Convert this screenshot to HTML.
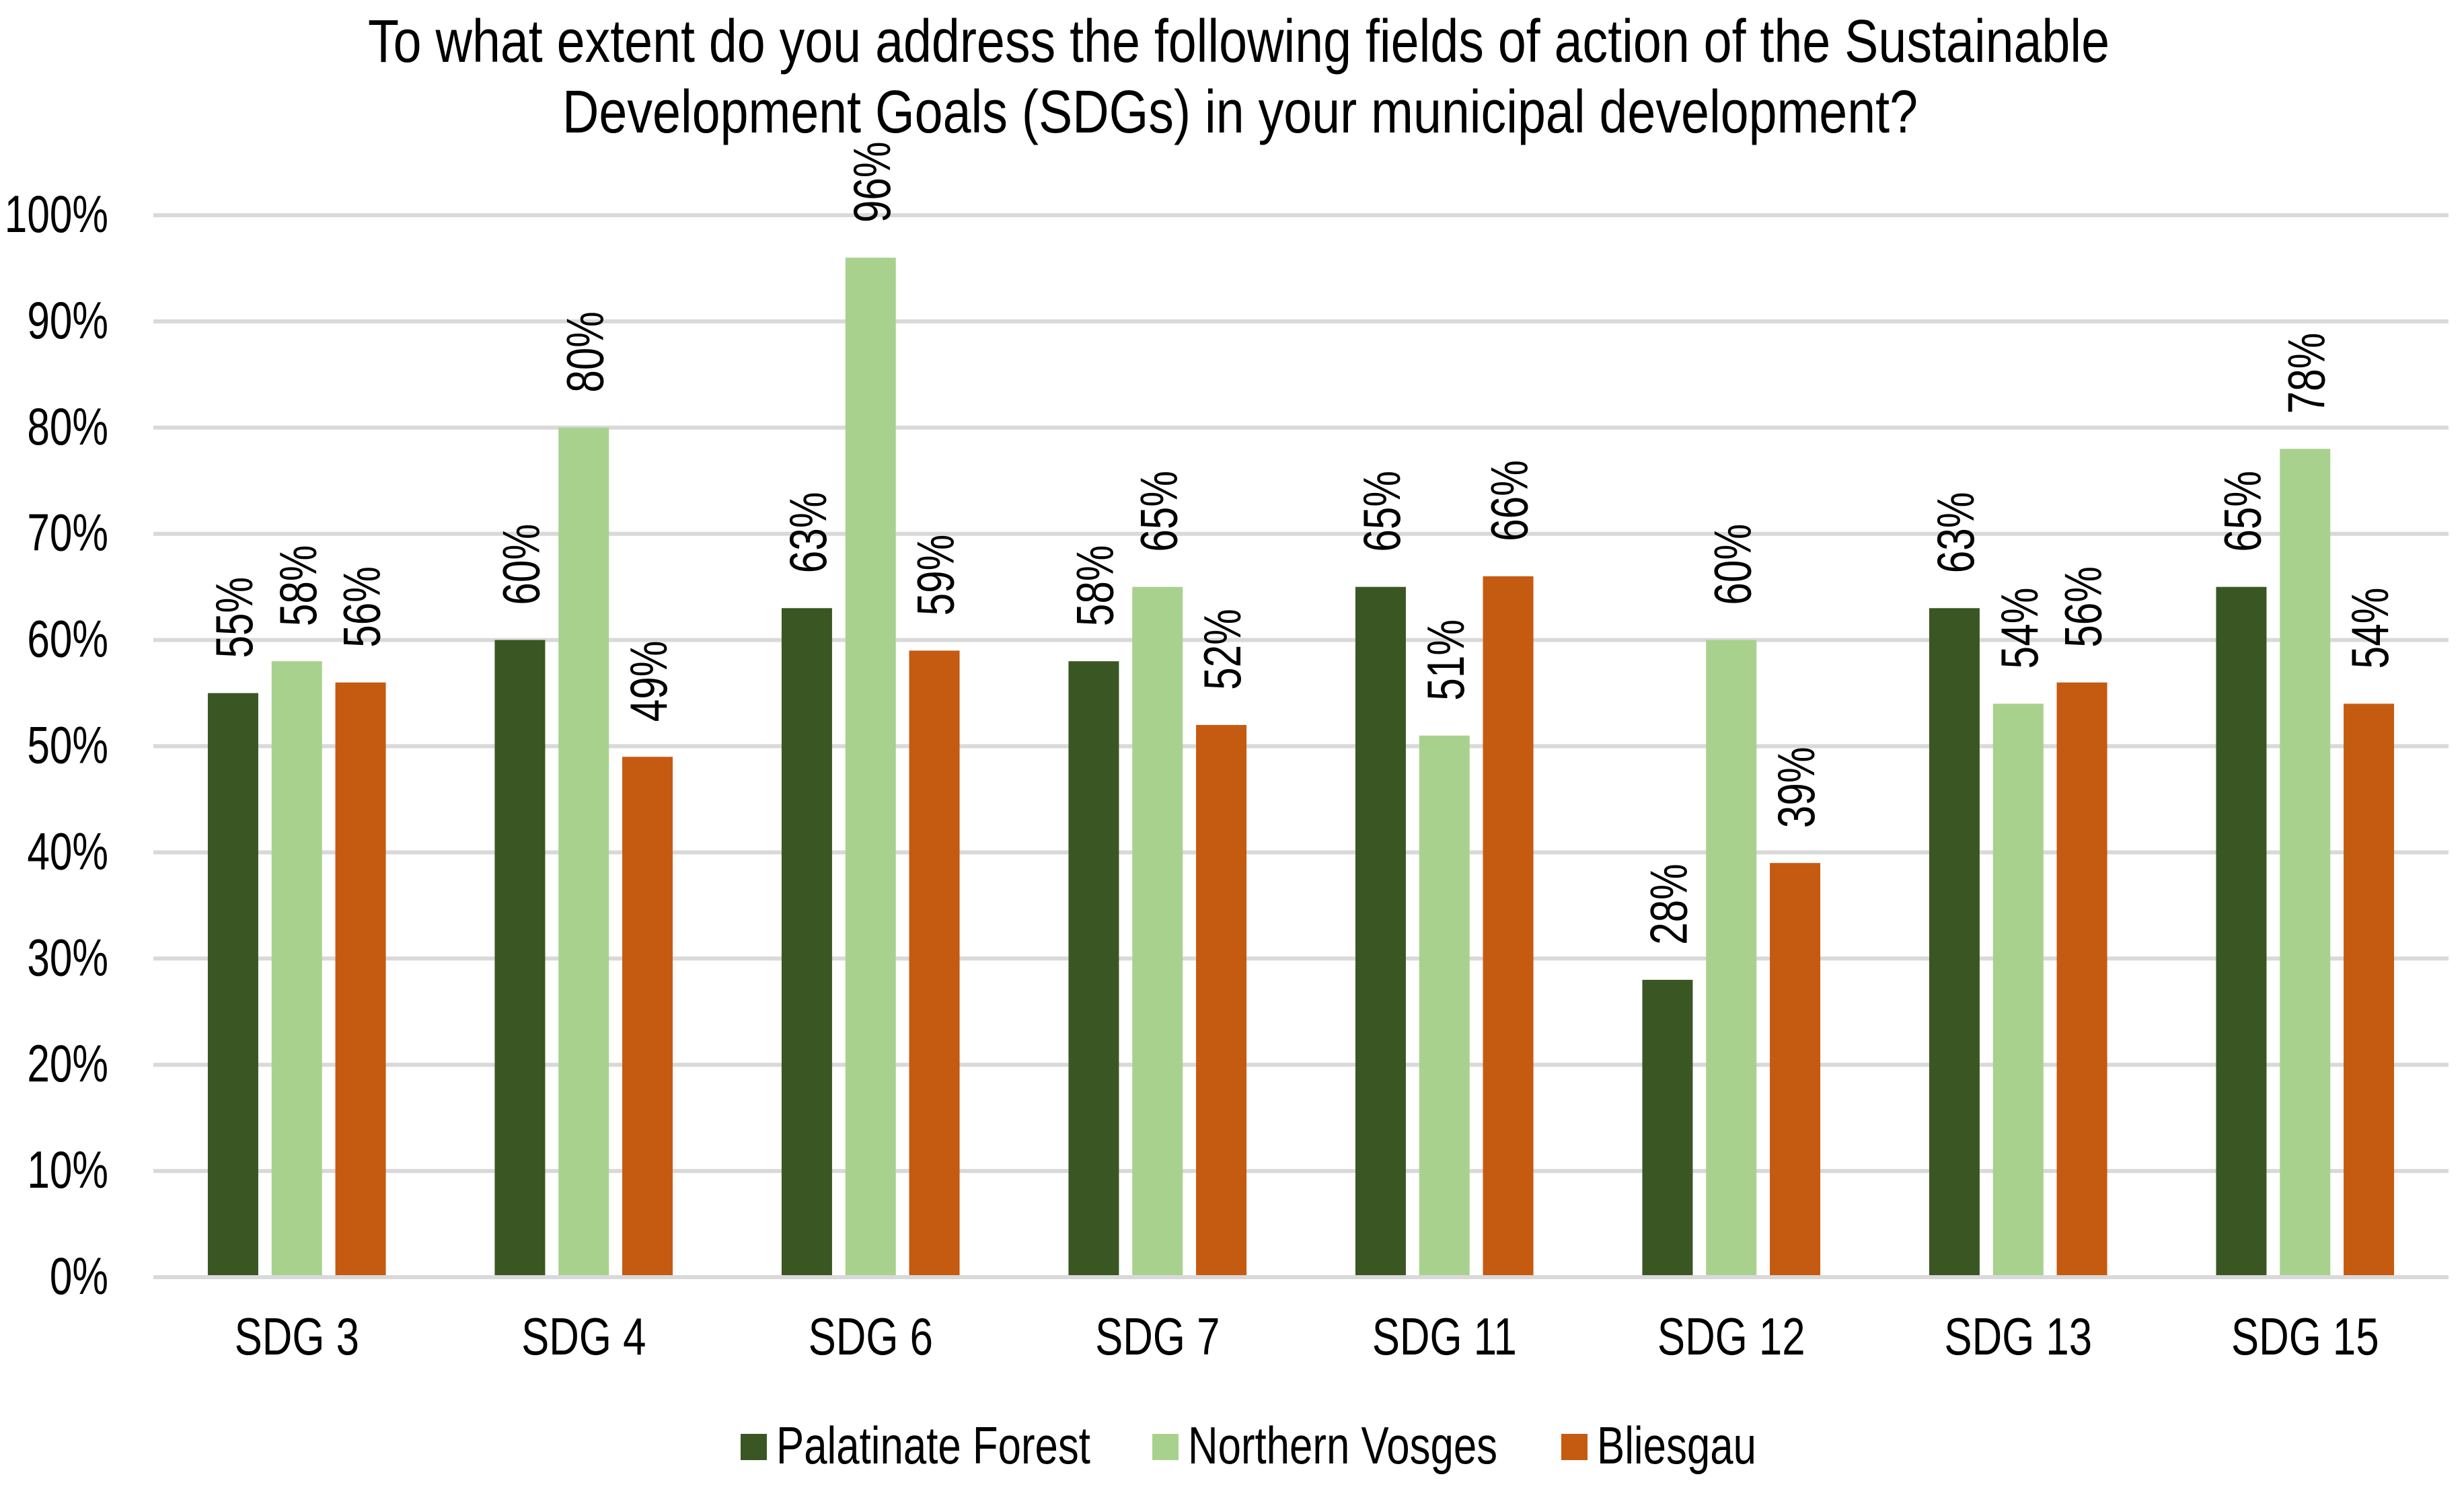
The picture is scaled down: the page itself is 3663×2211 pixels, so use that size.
<!DOCTYPE html>
<html lang="en">
<head>
<meta charset="utf-8">
<title>SDG fields of action chart</title>
<style>
  html, body { margin: 0; padding: 0; background: #ffffff; }
  svg { display: block; }
  text { font-family: "Liberation Sans", Arial, sans-serif; fill: #000000; }
</style>
</head>
<body>
<svg id="chart" xmlns="http://www.w3.org/2000/svg" width="3663" height="2211" viewBox="0 0 3663 2211">
  <rect x="0" y="0" width="3663" height="2211" fill="#ffffff"/>
  <g>
    <text x="547" y="92" font-size="90" textLength="2589" lengthAdjust="spacingAndGlyphs">To what extent do you address the following fields of action of the Sustainable</text>
    <text x="836" y="197" font-size="90" textLength="2015" lengthAdjust="spacingAndGlyphs">Development Goals (SDGs) in your municipal development?</text>
  </g>
  <g id="grid"></g>
  <g id="bars"></g>
  <g id="axis"></g>
  <g id="ylabels"></g>
  <g id="xlabels"></g>
  <g id="dlabels"></g>
  <g id="legend"></g>
</svg>
<script>
const categories = ["SDG 3", "SDG 4", "SDG 6", "SDG 7", "SDG 11", "SDG 12", "SDG 13", "SDG 15"];
const palatinateForest = [55, 60, 63, 58, 65, 28, 63, 65];
const northernVosges = [58, 80, 96, 65, 51, 60, 54, 78];
const bliesgau = [56, 49, 59, 52, 66, 39, 56, 54];
const yTicks = [0, 10, 20, 30, 40, 50, 60, 70, 80, 90, 100];
const seriesNames = ["Palatinate Forest", "Northern Vosges", "Bliesgau"];

const seriesValues = [palatinateForest, northernVosges, bliesgau];
const seriesColors = ["#3a5723", "#a9d18e", "#c55a11"];
const seriesSlugs = ["palatinate-forest", "northern-vosges", "bliesgau"];

const NS = "http://www.w3.org/2000/svg";
const plotLeft = 228, plotRight = 3640, plotBottom = 1899, plotTop = 320;
const barWidth = 75, barStep = 94.8;
const fontSize = 78, numScale = 0.773, wordScale = 0.792;

function yPos(v) {
  return plotBottom - (v / 100) * (plotBottom - plotTop);
}
function xCenter(i) {
  return plotLeft + (i + 0.5) * (plotRight - plotLeft) / categories.length;
}
function make(tag, parent) {
  const el = document.createElementNS(NS, tag);
  document.getElementById(parent).appendChild(el);
  return el;
}

yTicks.forEach(function (t) {
  const line = make("line", "grid");
  
  
  line.setAttribute("x1", plotLeft);
  line.setAttribute("x2", plotRight);
  line.setAttribute("y1", yPos(t));
  line.setAttribute("y2", yPos(t));
  line.setAttribute("stroke", "#d9d9d9");
  line.setAttribute("stroke-width", 6);

  const label = make("text", "ylabels");
  
  
  label.setAttribute("font-size", fontSize);
  label.setAttribute("text-anchor", "end");
  label.setAttribute("transform", "translate(161," + (yPos(t) + 25) + ") scale(" + numScale + ",1)");
  label.textContent = t + "%";
});

categories.forEach(function (cat, i) {
  const cx = xCenter(i);
  seriesValues.forEach(function (vals, s) {
    const v = vals[i];
    const bx = cx + (s - 1) * barStep;
    const top = yPos(v);

    const bar = make("rect", "bars");
    
    
    bar.setAttribute("x", bx - barWidth / 2);
    bar.setAttribute("y", top);
    bar.setAttribute("width", barWidth);
    bar.setAttribute("height", plotBottom - top);
    bar.setAttribute("fill", seriesColors[s]);

    const label = make("text", "dlabels");
    
    
    label.setAttribute("font-size", fontSize);
    label.setAttribute("transform", "translate(" + (bx + 28.5) + "," + (top - 52) + ") rotate(-90) scale(" + numScale + ",1)");
    label.textContent = v + "%";
  });

  const xl = make("text", "xlabels");
  
  
  xl.setAttribute("font-size", fontSize);
  xl.setAttribute("text-anchor", "middle");
  xl.setAttribute("transform", "translate(" + cx + ",2014) scale(" + wordScale + ",1)");
  xl.textContent = cat;
});

const baseline = make("line", "axis");


baseline.setAttribute("x1", plotLeft);
baseline.setAttribute("x2", plotRight);
baseline.setAttribute("y1", yPos(0));
baseline.setAttribute("y2", yPos(0));
baseline.setAttribute("stroke", "#d9d9d9");
baseline.setAttribute("stroke-width", 6);

const legendSwatchX = [1101, 1713, 2321];
seriesNames.forEach(function (name, s) {
  const sw = make("rect", "legend");
  
  
  sw.setAttribute("x", legendSwatchX[s]);
  sw.setAttribute("y", 2132);
  sw.setAttribute("width", 39);
  sw.setAttribute("height", 39);
  sw.setAttribute("fill", seriesColors[s]);

  const t = make("text", "legend");
  
  
  t.setAttribute("font-size", fontSize);
  t.setAttribute("transform", "translate(" + (legendSwatchX[s] + 53) + ",2176) scale(" + wordScale + ",1)");
  t.textContent = name;
});
</script>
</body>
</html>
